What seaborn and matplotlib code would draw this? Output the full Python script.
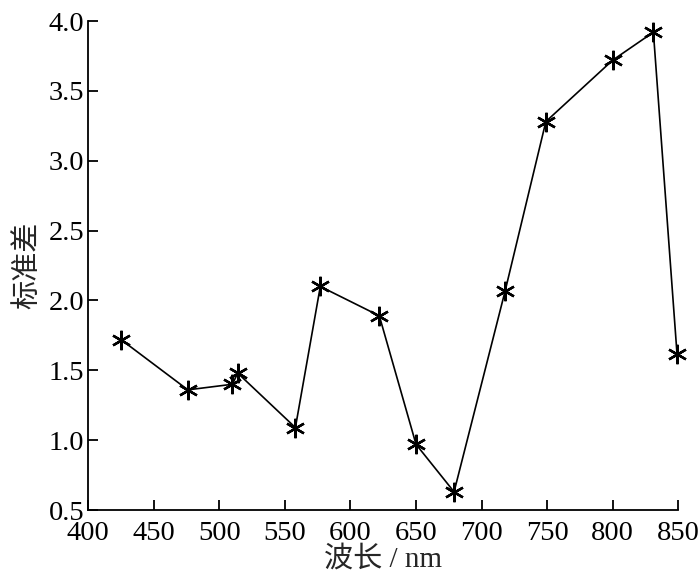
import matplotlib
matplotlib.use("Agg")
import matplotlib.pyplot as plt
import seaborn as sns
import pandas as pd

wavelength = [425, 476, 510, 514, 558, 577, 622, 650, 679, 718, 749, 800, 831, 849]
std_values = [1.72, 1.36, 1.40, 1.48, 1.09, 2.10, 1.89, 0.97, 0.63, 2.07, 3.28, 3.72, 3.92, 1.62]
x_ticks = [400, 450, 500, 550, 600, 650, 700, 750, 800, 850]
y_ticks = [0.5, 1.0, 1.5, 2.0, 2.5, 3.0, 3.5, 4.0]

df = pd.DataFrame({"wavelength": wavelength, "std": std_values})

sns.set_style("ticks")
plt.rcParams["font.family"] = ["Liberation Serif", "Noto Sans CJK SC"]
plt.rcParams["axes.unicode_minus"] = False

fig = plt.figure(figsize=(7.0, 5.82), dpi=100)
ax = fig.add_axes([0.126, 0.1237, 0.843, 0.8402])

sns.lineplot(data=df, x="wavelength", y="std", sort=False, color="black",
             linewidth=1.2, marker=(6, 2, 0), markersize=14,
             markeredgewidth=1.7, markeredgecolor="black", clip_on=False,
             ax=ax)

ax.set_xlim(400, 850)
ax.set_ylim(0.5, 4.0)
ax.set_xticks(x_ticks)
ax.set_yticks(y_ticks)
ax.set_yticklabels([f"{v:.1f}" for v in y_ticks])
ax.tick_params(direction="in", length=7, width=1.3, labelsize=20.5,
               colors="black")
ax.tick_params(axis="x", pad=8)
ax.tick_params(axis="y", pad=3)
sns.despine(ax=ax)
for s in ["left", "bottom"]:
    ax.spines[s].set_linewidth(1.3)
    ax.spines[s].set_color("black")

ax.set_xlabel("波长 / nm", fontsize=21, labelpad=0)
ax.set_ylabel("标准差", fontsize=21, labelpad=5)

fig.savefig("out.png", dpi=100)
